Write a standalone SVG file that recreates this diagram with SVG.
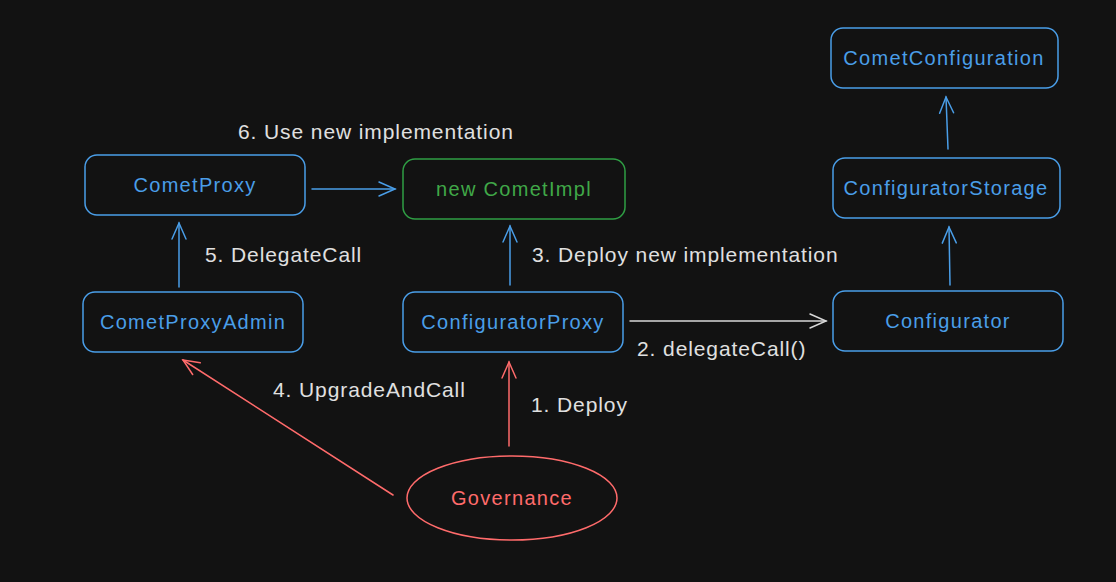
<svg xmlns="http://www.w3.org/2000/svg" width="1116" height="582" viewBox="0 0 1116 582">
<defs>
<style>
.box{fill:none;stroke-width:1.5}
.blue{stroke:#4a9ee8}
.green{stroke:#2f9e44}
.red{stroke:#ff6b6b}
.white{stroke:#d8d8d8}
.t{font-family:"Liberation Sans",Arial,sans-serif;font-size:20px;letter-spacing:1.3px;text-anchor:middle;dominant-baseline:central}
.tb{fill:#4a9ee8}
.tg{fill:#40a848}
.tr{fill:#ff6b6b}
.lab{font-family:"Liberation Sans",Arial,sans-serif;font-size:21px;letter-spacing:0.9px;fill:#e0e0e0}
.edge{fill:none;stroke-width:1.5;stroke-linecap:round}
</style>
<marker id="ab" viewBox="0 0 20 20" refX="18" refY="10" markerWidth="20" markerHeight="20" markerUnits="userSpaceOnUse" orient="auto">
<path d="M2 3 L18 10 L2 17" fill="none" stroke="#4a9ee8" stroke-width="1.5" stroke-linecap="round"/>
</marker>
<marker id="aw" viewBox="0 0 20 20" refX="18" refY="10" markerWidth="20" markerHeight="20" markerUnits="userSpaceOnUse" orient="auto">
<path d="M2 3 L18 10 L2 17" fill="none" stroke="#d8d8d8" stroke-width="1.5" stroke-linecap="round"/>
</marker>
<marker id="ar" viewBox="0 0 20 20" refX="18" refY="10" markerWidth="20" markerHeight="20" markerUnits="userSpaceOnUse" orient="auto">
<path d="M2 3 L18 10 L2 17" fill="none" stroke="#ff6b6b" stroke-width="1.5" stroke-linecap="round"/>
</marker>
</defs>
<rect width="1116" height="582" fill="#121212"/>

<g id="edges">
<path class="edge blue" d="M312 189 L395 189" marker-end="url(#ab)"/>
<path class="edge blue" d="M179 287 L179 223" marker-end="url(#ab)"/>
<path class="edge blue" d="M510 285 L510 226" marker-end="url(#ab)"/>
<path class="edge white" d="M630 321 L826 321" marker-end="url(#aw)"/>
<path class="edge blue" d="M950 285 L949 227" marker-end="url(#ab)"/>
<path class="edge blue" d="M948 149 L946 97" marker-end="url(#ab)"/>
<path class="edge red" d="M509 446 L509 362" marker-end="url(#ar)"/>
<path class="edge red" d="M393 495 L183 360" marker-end="url(#ar)"/>
<text class="lab" x="238" y="139">6. Use new implementation</text>
<text class="lab" x="205" y="262">5. DelegateCall</text>
<text class="lab" x="532" y="262">3. Deploy new implementation</text>
<text class="lab" x="637" y="356">2. delegateCall()</text>
<text class="lab" x="273" y="397">4. UpgradeAndCall</text>
<text class="lab" x="531" y="412">1. Deploy</text>
</g>

<g id="cometProxy">
<rect class="box blue" x="85" y="155" width="220" height="60" rx="12"/>
<text class="t tb" x="195" y="185">CometProxy</text>
</g>
<g id="cometImpl">
<rect class="box green" x="403" y="159" width="222" height="60" rx="12"/>
<text class="t tg" x="514" y="189">new CometImpl</text>
</g>
<g id="cometProxyAdmin">
<rect class="box blue" x="83" y="292" width="220" height="60" rx="12"/>
<text class="t tb" x="193" y="322">CometProxyAdmin</text>
</g>
<g id="configuratorProxy">
<rect class="box blue" x="403" y="292" width="220" height="60" rx="12"/>
<text class="t tb" x="513" y="322">ConfiguratorProxy</text>
</g>
<g id="cometConfiguration">
<rect class="box blue" x="831" y="28" width="227" height="60" rx="12"/>
<text class="t tb" x="944" y="58">CometConfiguration</text>
</g>
<g id="configuratorStorage">
<rect class="box blue" x="833" y="158" width="227" height="60" rx="12"/>
<text class="t tb" x="946" y="188">ConfiguratorStorage</text>
</g>
<g id="configurator">
<rect class="box blue" x="833" y="291" width="230" height="60" rx="12"/>
<text class="t tb" x="948" y="321">Configurator</text>
</g>
<g id="governance">
<ellipse class="box red" cx="512" cy="498" rx="105" ry="42"/>
<text class="t tr" x="512" y="498">Governance</text>
</g>
</svg>
